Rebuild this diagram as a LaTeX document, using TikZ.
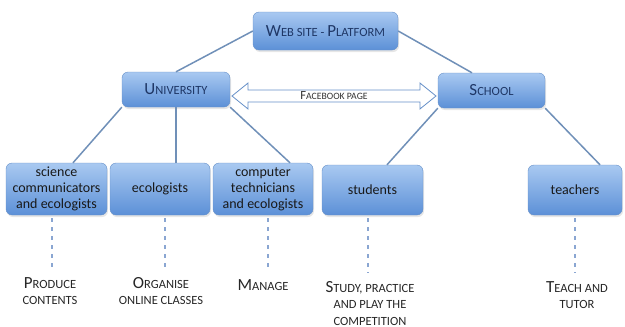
\documentclass[tikz,border=0pt]{standalone}
\usepackage{fontspec}
\setmainfont{Carlito}
\usepackage{tikz}
\usetikzlibrary{
  shapes.arrows
  , shadows
  , calc
}

\definecolor{boxtop}{HTML}{A9C9F1}
\definecolor{boxbot}{HTML}{5C90D7}
\definecolor{boxline}{HTML}{6690C8}
\definecolor{linkblue}{HTML}{7090B8}
\definecolor{dashblue}{HTML}{8AA6D2}
\definecolor{navy}{HTML}{1F3766}
% first letter of a small-caps heading
\newcommand{\initcap}[1]{{\fontsize{17}{17}\selectfont #1}}

\begin{document}
\begin{tikzpicture}[x=1pt, y=-1pt]
      \tikzstyle{bluebox}=[draw=boxline, rounded corners=6pt, top color=boxtop, bottom color=boxbot, drop shadow={opacity=0.2, shadow xshift=1pt, shadow yshift=-2pt}, align=center, inner sep=2pt, text=black!90, font=\fontsize{14}{16}\selectfont]
      \tikzstyle{headbox}=[bluebox, text=navy, font=\fontsize{12.5}{14}\selectfont]
      \tikzstyle{link}=[draw=linkblue, line width=1.5pt]
      \tikzstyle{dashline}=[draw=dashblue, line width=1.3pt, dash pattern=on 4pt off 5pt]
      \tikzstyle{task}=[anchor=north, align=center, inner sep=2pt, text=black!85, font=\fontsize{12.5}{16.5}\selectfont]

      \useasboundingbox (0,0) rectangle (625,327);

      % top level
      \node [headbox, minimum width=145, minimum height=38] (web) at (325.5,31) {\initcap{W}EB SITE - \initcap{P}LATFORM};
      \node [headbox, minimum width=108, minimum height=35] (univ) at (176,89.5) {\initcap{U}NIVERSITY};
      \node [headbox, minimum width=107, minimum height=35] (school) at (491.5,90.5) {\initcap{S}CHOOL};

      % people
      \node [bluebox, minimum width=101, minimum height=52] (sci) at (56.5,189) {science\\communicators\\and ecologists};
      \node [bluebox, minimum width=100, minimum height=52] (eco) at (160,189) {ecologists};
      \node [bluebox, minimum width=100, minimum height=52] (comp) at (263,189) {computer\\technicians\\and ecologists};
      \node [bluebox, minimum width=101, minimum height=50] (stud) at (372.5,190) {students};
      \node [bluebox, minimum width=94, minimum height=50] (teach) at (575,190) {teachers};

      % what they do
      \node [task] (lprod) at (50,275) {\initcap{P}RODUCE\\CONTENTS};
      \node [task] (lorg) at (161,275) {\initcap{O}RGANISE\\ONLINE CLASSES};
      \node [task] (lmanage) at (263,277) {\initcap{M}ANAGE};
      \node [task] (lstudy) at (370,279) {\initcap{S}TUDY, PRACTICE\\AND PLAY THE\\COMPETITION};
      \node [task] (lteach) at (577,279) {\initcap{T}EACH AND\\TUTOR};

      % facebook link between the two institutions
      \node [double arrow, draw=boxline, fill=white, line width=0.8pt, minimum height=204, minimum width=26, double arrow head extend=6.5, double arrow tip angle=78, inner sep=1pt, text=black!80, font=\fontsize{9.7}{10}\selectfont] (fb) at ($(univ.east)!0.5!(school.west)+(0,6)$) {{\fontsize{12.5}{12}\selectfont F}ACEBOOK PAGE};

      \draw [link] (web.west) -- (univ.north);
      \draw [link] (web.east) -- ([xshift=-19.5pt]school.north);
      \draw [link] (univ.south west) -- ([xshift=16.5pt]sci.north);
      \draw [link] (univ.south) -- (univ.south |- eco.north);
      \draw [link] (univ.south east) -- ([xshift=27pt]comp.north);
      \draw [link] (school.south west) -- ([xshift=14.5pt]stud.north);
      \draw [link] (school.south east) -- ([xshift=25pt]teach.north);

      \foreach \b/\l/\x in {sci/lprod/52, eco/lorg/165, comp/lmanage/268, stud/lstudy/368, teach/lteach/575}
        \draw [dashline, shorten <=3pt, shorten >=6pt] (\x,0 |- \b.south) -- (\x,0 |- \l.north);

    \end{tikzpicture}
\end{document}
